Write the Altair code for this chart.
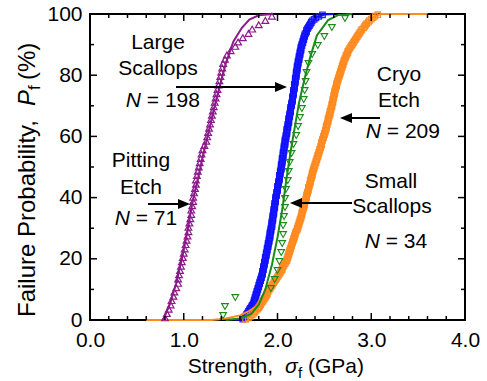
import altair as alt
import pandas as pd

FONT = "Liberation Sans"

# ---- measured strengths (GPa), sorted, one value per specimen ----
pitting_s = [0.80, 0.82, 0.84, 0.86, 0.87, 0.89, 0.90, 0.92, 0.94, 0.94,
             0.95, 0.96, 0.97, 0.98, 0.99, 1.00, 1.01, 1.02, 1.03, 1.04,
             1.05, 1.05, 1.06, 1.07, 1.08, 1.08, 1.09, 1.10, 1.10, 1.11,
             1.12, 1.13, 1.13, 1.14, 1.15, 1.16, 1.17, 1.18, 1.19, 1.20,
             1.22, 1.24, 1.25, 1.26, 1.27, 1.28, 1.29, 1.30, 1.31, 1.32,
             1.33, 1.34, 1.35, 1.36, 1.37, 1.38, 1.39, 1.40, 1.41, 1.42,
             1.44, 1.46, 1.50, 1.55, 1.58, 1.63, 1.69, 1.73, 1.80, 1.87,
             1.94]

large_s = [1.63, 1.65, 1.66, 1.67, 1.68, 1.69, 1.70, 1.71, 1.72, 1.73,
           1.74, 1.75, 1.75, 1.76, 1.76, 1.77, 1.77, 1.78, 1.78, 1.79,
           1.79, 1.80, 1.80, 1.81, 1.81, 1.82, 1.82, 1.83, 1.83, 1.84,
           1.84, 1.84, 1.85, 1.85, 1.85, 1.86, 1.86, 1.86, 1.87, 1.87,
           1.87, 1.88, 1.88, 1.88, 1.89, 1.89, 1.89, 1.90, 1.90, 1.90,
           1.91, 1.91, 1.91, 1.92, 1.92, 1.92, 1.92, 1.93, 1.93, 1.93,
           1.94, 1.94, 1.94, 1.94, 1.95, 1.95, 1.95, 1.95, 1.96, 1.96,
           1.96, 1.96, 1.97, 1.97, 1.97, 1.97, 1.98, 1.98, 1.98, 1.98,
           1.99, 1.99, 1.99, 2.00, 2.00, 2.00, 2.00, 2.01, 2.01, 2.01,
           2.02, 2.02, 2.02, 2.02, 2.03, 2.03, 2.03, 2.04, 2.04, 2.04,
           2.04, 2.05, 2.05, 2.05, 2.05, 2.06, 2.06, 2.06, 2.06, 2.07,
           2.07, 2.07, 2.07, 2.08, 2.08, 2.08, 2.08, 2.09, 2.09, 2.09,
           2.10, 2.10, 2.10, 2.10, 2.11, 2.11, 2.11, 2.12, 2.12, 2.12,
           2.12, 2.13, 2.13, 2.13, 2.14, 2.14, 2.14, 2.14, 2.15, 2.15,
           2.15, 2.16, 2.16, 2.16, 2.16, 2.17, 2.17, 2.17, 2.17, 2.18,
           2.18, 2.18, 2.18, 2.19, 2.19, 2.19, 2.19, 2.20, 2.20, 2.20,
           2.20, 2.21, 2.21, 2.21, 2.21, 2.22, 2.22, 2.22, 2.23, 2.23,
           2.23, 2.24, 2.24, 2.24, 2.25, 2.25, 2.25, 2.26, 2.26, 2.27,
           2.27, 2.28, 2.28, 2.29, 2.29, 2.30, 2.31, 2.31, 2.32, 2.33,
           2.34, 2.35, 2.36, 2.37, 2.39, 2.41, 2.44, 2.48]

small_s = [1.42, 1.44, 1.55, 1.93, 1.97, 2.00, 2.02, 2.04, 2.05, 2.06,
           2.06, 2.07, 2.08, 2.08, 2.09, 2.11, 2.12, 2.13, 2.15, 2.17,
           2.20, 2.22, 2.24, 2.26, 2.28, 2.29, 2.30, 2.31, 2.33, 2.37,
           2.43, 2.50, 2.58, 2.72]

cryo_s = [1.66, 1.69, 1.71, 1.73, 1.75, 1.76, 1.77, 1.79, 1.80, 1.81,
          1.82, 1.83, 1.84, 1.85, 1.86, 1.87, 1.88, 1.89, 1.89, 1.90,
          1.91, 1.92, 1.93, 1.94, 1.95, 1.96, 1.97, 1.98, 1.99, 2.00,
          2.01, 2.02, 2.03, 2.04, 2.05, 2.05, 2.06, 2.07, 2.08, 2.09,
          2.10, 2.10, 2.11, 2.11, 2.12, 2.12, 2.13, 2.13, 2.14, 2.14,
          2.15, 2.15, 2.16, 2.16, 2.17, 2.17, 2.18, 2.18, 2.19, 2.19,
          2.20, 2.21, 2.21, 2.22, 2.22, 2.23, 2.23, 2.24, 2.24, 2.25,
          2.25, 2.26, 2.26, 2.26, 2.27, 2.27, 2.28, 2.28, 2.29, 2.29,
          2.29, 2.30, 2.30, 2.31, 2.31, 2.31, 2.32, 2.32, 2.33, 2.33,
          2.33, 2.34, 2.34, 2.35, 2.35, 2.35, 2.36, 2.36, 2.37, 2.37,
          2.37, 2.38, 2.38, 2.39, 2.39, 2.40, 2.40, 2.41, 2.41, 2.42,
          2.42, 2.43, 2.43, 2.44, 2.44, 2.45, 2.45, 2.46, 2.46, 2.47,
          2.47, 2.47, 2.48, 2.48, 2.49, 2.49, 2.50, 2.50, 2.51, 2.51,
          2.52, 2.52, 2.52, 2.53, 2.53, 2.54, 2.54, 2.54, 2.55, 2.55,
          2.56, 2.56, 2.56, 2.57, 2.57, 2.58, 2.58, 2.58, 2.59, 2.59,
          2.59, 2.60, 2.60, 2.60, 2.61, 2.61, 2.61, 2.62, 2.62, 2.63,
          2.63, 2.63, 2.64, 2.64, 2.65, 2.65, 2.66, 2.66, 2.67, 2.67,
          2.68, 2.68, 2.69, 2.69, 2.70, 2.70, 2.71, 2.71, 2.72, 2.73,
          2.73, 2.74, 2.75, 2.75, 2.76, 2.77, 2.78, 2.79, 2.80, 2.81,
          2.82, 2.83, 2.84, 2.85, 2.86, 2.87, 2.88, 2.89, 2.90, 2.92,
          2.93, 2.94, 2.95, 2.97, 2.98, 3.00, 3.02, 3.04, 3.07]

# ---- fitted curves: strength (GPa) / failure probability (%) ----
pitting_fit_s = [0.78, 0.85, 0.92, 0.98, 1.04, 1.09, 1.15, 1.20, 1.27, 1.33, 1.38, 1.45, 1.53, 1.62, 1.70, 1.80, 1.95]
pitting_fit_p = [0, 5, 12, 20, 29, 38, 46, 53, 62, 70, 76, 84, 91, 95.5, 98.2, 99.6, 100]

large_fit_s = [1.55, 1.63, 1.71, 1.79, 1.87, 1.96, 2.04, 2.09, 2.14, 2.19, 2.26, 2.33, 2.42, 2.50, 2.60]
large_fit_p = [0, 0.5, 3.3, 10, 19.6, 36, 50, 60, 69, 79, 90.5, 96, 99, 99.8, 100]

small_fit_s = [1.45, 1.60, 1.72, 1.80, 1.87, 1.94, 2.00, 2.05, 2.10, 2.14, 2.19, 2.23, 2.29, 2.35, 2.42, 2.54, 2.65, 2.80]
small_fit_p = [0, 0.5, 2, 5, 10, 18, 27, 36, 47, 55, 64, 71, 79, 86, 93, 98, 99.7, 100]

cryo_fit_s = [0.60, 1.30, 1.45, 1.60, 1.70, 1.80, 1.90, 2.00, 2.10, 2.21, 2.29, 2.35, 2.40, 2.51, 2.60, 2.71, 2.77, 2.91, 3.02, 3.10, 3.60]
cryo_fit_p = [0, 0, 0.5, 1.5, 3, 5, 9, 14, 20, 30, 38, 46, 52, 63, 74, 85, 88, 95, 99, 100, 100]

# ---- axis tick positions ----
x_major = [0, 1, 2, 3, 4]
x_minor = [0.2, 0.4, 0.6, 0.8, 1.2, 1.4, 1.6, 1.8, 2.2, 2.4, 2.6, 2.8, 3.2, 3.4, 3.6, 3.8]
y_major = [0, 20, 40, 60, 80, 100]
y_minor = [10, 30, 50, 70, 90]

PURPLE = "#8B1A8B"
BLUE = "#1010FF"
GREEN = "#1A8A1A"
ORANGE = "#FF8A1F"

W, H = 375, 306


def ranked(vals):
    n = len(vals)
    return pd.DataFrame({"s": vals, "P": [(i + 0.5) / n * 100 for i in range(n)]})


def curve(s, p):
    return pd.DataFrame({"s": s, "P": p})


XS = alt.Scale(domain=[0, 4], nice=False, zero=False)
YS = alt.Scale(domain=[0, 100], nice=False, zero=False)

X_AXIS = alt.Axis(orient="bottom", values=x_major, format=".1f", ticks=False, tickSize=0,
                  domain=False, grid=False, labelPadding=9, labelFlush=False,
                  labelOverlap=False, title=None, labelFont=FONT, labelFontSize=21,
                  labelColor="black")
Y_AXIS = alt.Axis(orient="left", values=y_major, format="d", ticks=False, tickSize=0,
                  domain=False, grid=False, labelPadding=8, labelFlush=False,
                  labelOverlap=False, title=None, labelFont=FONT, labelFontSize=21,
                  labelColor="black")


def enc(chart):
    return chart.encode(
        x=alt.X("s:Q", scale=XS, axis=X_AXIS),
        y=alt.Y("P:Q", scale=YS, axis=Y_AXIS),
    )


def pts(vals, shape, color, size, opacity=1.0, sw=1.2):
    return enc(alt.Chart(ranked(vals)).mark_point(shape=shape, filled=False, size=size,
                                                  color=color, strokeWidth=sw, opacity=opacity))


def fit(s, p, color):
    return enc(alt.Chart(curve(s, p)).mark_line(color=color, strokeWidth=2))


def xticks(vals, length):
    df = pd.DataFrame({"t": vals})
    base = alt.Chart(df).mark_rule(color="black", strokeWidth=1.5)
    xe = alt.X("t:Q", scale=XS, axis=X_AXIS)
    return [base.encode(x=xe, y=alt.value(H), y2=alt.value(H - length)),
            base.encode(x=xe, y=alt.value(0), y2=alt.value(length))]


def yticks(vals, length):
    df = pd.DataFrame({"t": vals})
    base = alt.Chart(df).mark_rule(color="black", strokeWidth=1.5)
    ye = alt.Y("t:Q", scale=YS, axis=Y_AXIS)
    return [base.encode(y=ye, x=alt.value(0), x2=alt.value(length)),
            base.encode(y=ye, x=alt.value(W), x2=alt.value(W - length))]


one = alt.Data(values=[{}])


def txt(t, x, y, size=21, italic=False, align="center", angle=0):
    return alt.Chart(one).mark_text(text=t, font=FONT, fontSize=size,
                                    fontStyle="italic" if italic else "normal",
                                    align=align, baseline="alphabetic", angle=angle,
                                    color="black").encode(x=alt.value(x), y=alt.value(y))


def n_label(num, cx, y, width_rest):
    wn = 15.2
    start = cx - (wn + width_rest) / 2
    return [txt("N", start, y, italic=True, align="left"),
            txt("= " + num, start + wn + 5.8, y, align="left")]


def arrow(x_tail, x_tip, y):
    right = x_tip > x_tail
    sgn = 1 if right else -1
    shape = "M1,0L-1,-0.85L-1,0.85Z" if right else "M-1,0L1,-0.85L1,0.85Z"
    rule = alt.Chart(one).mark_rule(color="black", strokeWidth=2).encode(
        x=alt.value(x_tail), x2=alt.value(x_tip - 8 * sgn), y=alt.value(y))
    head = alt.Chart(one).mark_point(shape=shape, filled=True, size=144, color="black",
                                     opacity=1, strokeWidth=0).encode(
        x=alt.value(x_tip - 6 * sgn), y=alt.value(y))
    return [rule, head]


layers = [
    fit(large_fit_s, large_fit_p, BLUE),
    pts(large_s, "square", BLUE, 30, 0.9, 1.3),
    fit(cryo_fit_s, cryo_fit_p, ORANGE),
    pts(cryo_s, "square", ORANGE, 30, 0.9, 1.3),
    pts(small_s, "triangle-down", GREEN, 45, 1.0, 1.1),
    fit(small_fit_s, small_fit_p, GREEN),
    pts(pitting_s, "triangle-up", PURPLE, 45, 1.0, 1.2),
    fit(pitting_fit_s, pitting_fit_p, PURPLE),
]

ticks = xticks(x_minor, 4) + xticks(x_major, 7) + yticks(y_minor, 4) + yticks(y_major, 7)

# annotations (pixel positions relative to the plot area)
ann = []
ann += [txt("Large", 68, 35), txt("Scallops", 68, 61)] + n_label("198", 70, 93, 53.2)
ann += arrow(86, 197, 73)
ann += [txt("Pitting", 51, 153), txt("Etch", 51, 180)] + n_label("71", 53, 211, 41.5)
ann += arrow(58, 100, 190)
ann += [txt("Cryo", 309, 67), txt("Etch", 309, 93)] + n_label("209", 310, 124, 53.2)
ann += arrow(290, 250, 104)
ann += [txt("Small", 301, 174), txt("Scallops", 302, 199)] + n_label("34", 303, 234, 41.5)
ann += arrow(262, 200, 189)

# axis titles
ann += [
    txt("Strength,", 183, 359, align="right"),
    txt("σ", 195, 359, italic=True, align="left"),
    txt("f", 208, 364, size=15, align="left"),
    txt("(GPa)", 218, 359, align="left"),
    txt("Failure Probability,", -55, 303, size=24, align="left", angle=270),
    txt("P", -55, 92, size=24, italic=True, align="left", angle=270),
    txt("f", -50, 76, size=17, align="left", angle=270),
    txt("(%)", -55, 66, size=24, align="left", angle=270),
]

chart = (
    alt.layer(*layers, *ticks, *ann)
    .properties(width=W, height=H,
                padding={"left": 90, "top": 14, "right": 22, "bottom": 61},
                autosize=alt.AutoSizeParams(type="none"))
    .configure(background="white")
    .configure_view(stroke="black", strokeWidth=2)
)

chart.save("out.html", embed_options={"renderer": "svg", "actions": False})
